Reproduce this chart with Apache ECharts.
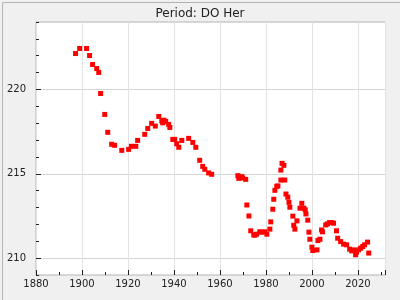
<!DOCTYPE html>
<html>
<head>
<meta charset="utf-8">
<script src="https://cdn.jsdelivr.net/npm/echarts@6/dist/echarts.min.js"></script>
<style>
html,body{margin:0;padding:0;background:#f0f0f0;}
#c{width:400px;height:300px;}
</style>
</head>
<body>
<div id="c"></div>
<script>
var titleText = 'Period: DO Her';
var xTickLabels = [1880, 1900, 1920, 1940, 1960, 1980, 2000, 2020];
var yTickLabels = [210, 215, 220];
var years = [1897.2, 1899.0, 1902.0, 1903.3, 1904.6, 1906.4, 1907.3, 1908.1, 1909.9, 1911.2,
  1912.9, 1914.2, 1917.3, 1920.3, 1921.5, 1923.4, 1924.2, 1927.3, 1928.6, 1930.3,
  1931.9, 1933.4, 1934.7, 1935.6, 1935.1, 1936.4, 1937.7, 1938.2, 1939.5, 1940.3,
  1941.2, 1942.1, 1943.4, 1946.4, 1948.2, 1949.5, 1951.2, 1952.5, 1953.4, 1955.1,
  1956.4, 1967.8, 1968.2, 1969.5, 1969.9, 1971.2, 1971.7, 1972.6, 1973.4, 1974.7,
  1975.2, 1976.0, 1977.3, 1978.2, 1979.5, 1980.4, 1981.7, 1982.1, 1983.0, 1983.4,
  1983.9, 1984.7, 1985.2, 1986.5, 1988.2, 1986.5, 1987.0, 1987.8, 1988.7, 1989.5,
  1990.0, 1990.4, 1991.7, 1992.1, 1992.6, 1993.5, 1994.8, 1995.6, 1996.5, 1997.1,
  1997.4, 1998.2, 1998.7, 1999.1, 2000.0, 2000.4, 2002.2, 2002.6, 2003.5, 2004.2,
  2004.6, 2006.0, 2006.8, 2007.7, 2008.6, 2009.4, 2010.7, 2011.2, 2012.5, 2013.8,
  2015.1, 2016.4, 2017.3, 2018.1, 2019.0, 2019.4, 2020.3, 2021.2, 2022.1, 2022.9,
  2024.2, 2024.7];
var periods = [222.13, 222.43, 222.43, 222.01, 221.48, 221.24, 221.01, 219.76, 218.52, 217.46,
  216.75, 216.69, 216.39, 216.45, 216.63, 216.63, 216.98, 217.34, 217.69, 217.99,
  217.83, 218.40, 218.14, 218.18, 218.02, 218.11, 217.93, 217.75, 217.04, 217.04,
  216.78, 216.57, 216.98, 217.10, 216.86, 216.57, 215.80, 215.44, 215.27, 215.05,
  214.97, 214.89, 214.73, 214.83, 214.75, 214.67, 213.15, 212.50, 211.62, 211.38,
  211.36, 211.42, 211.56, 211.54, 211.56, 211.42, 211.72, 212.15, 212.90, 213.49,
  214.02, 214.26, 214.28, 214.63, 214.63, 215.22, 215.62, 215.50, 213.80, 213.61,
  213.31, 213.02, 212.49, 211.95, 211.72, 212.21, 212.96, 213.25, 212.96, 212.86,
  212.62, 212.25, 211.54, 211.12, 210.65, 210.45, 210.49, 211.04, 211.12, 211.67,
  211.56, 211.97, 212.03, 212.11, 212.11, 212.07, 211.62, 211.18, 210.98, 210.83,
  210.79, 210.53, 210.43, 210.49, 210.20, 210.36, 210.49, 210.59, 210.69, 210.79,
  210.95, 210.30];

var pts = years.map(function (y, i) { return [y, periods[i]]; });

var chart = echarts.init(document.getElementById('c'), null, { renderer: 'canvas' });
var font = 'DejaVu Sans';
var tickColor = '#222';
var gridCol = '#d4d4d4';
var clear = 'rgba(0,0,0,0)';
chart.setOption({
  animation: false,
  backgroundColor: '#f0f0f0',
  textStyle: { fontFamily: font },
  title: {
    text: titleText, left: 'center', top: 3,
    textStyle: { fontFamily: font, fontSize: 12, fontWeight: 'normal', color: '#222' }
  },
  graphic: [{
    type: 'rect', left: 0, top: 0, silent: true, z: 100,
    shape: { x: 0.5, y: 0.5, width: 399, height: 299 },
    style: { fill: null, stroke: '#b4b4b4', lineWidth: 1 }
  }],
  grid: {
    left: 36, top: 22, right: 14.5, bottom: 25,
    show: true, backgroundColor: '#ffffff', borderColor: '#b4b4b4', borderWidth: 1
  },
  xAxis: [{
    type: 'value', min: 1880, max: 2032, interval: 20,
    axisLine: { show: false },
    axisTick: { show: true, inside: true, length: 5, lineStyle: { color: tickColor } },
    minorTick: { show: true, splitNumber: 2, length: 3, lineStyle: { color: tickColor } },
    splitLine: { show: true, lineStyle: { color: '#e2e2e2', width: 1, type: 'solid' } },
    axisLabel: {
      margin: 4, fontSize: 10, color: '#222', fontFamily: font,
      showMaxLabel: false,
      formatter: function (v) { return xTickLabels.indexOf(v) >= 0 ? String(v) : ''; }
    }
  }],
  yAxis: [{
    type: 'value', min: 209, max: 224, interval: 1,
    axisLine: { show: false },
    axisTick: { show: true, inside: true, length: 3, lineStyle: { color: tickColor } },
    splitLine: { show: true, lineStyle: { color: [clear, gridCol, clear, clear, clear], width: 1, type: 'solid' } },
    axisLabel: {
      margin: 10, fontSize: 10, color: '#222', fontFamily: font,
      formatter: function (v) { return yTickLabels.indexOf(v) >= 0 ? String(v) : ''; }
    }
  }, {
    type: 'value', min: 209, max: 224, interval: 5, position: 'right', offset: -349.5,
    axisLine: { show: false },
    axisTick: { show: true, inside: false, length: 5, customValues: yTickLabels, lineStyle: { color: tickColor } },
    axisLabel: { show: false },
    splitLine: { show: false }
  }],
  series: [{
    type: 'scatter', data: pts, z: 3, xAxisIndex: 0, yAxisIndex: 0,
    symbol: 'rect', symbolSize: 5,
    itemStyle: { color: '#ff0000', opacity: 1 }
  }]
});
</script>
</body>
</html>
